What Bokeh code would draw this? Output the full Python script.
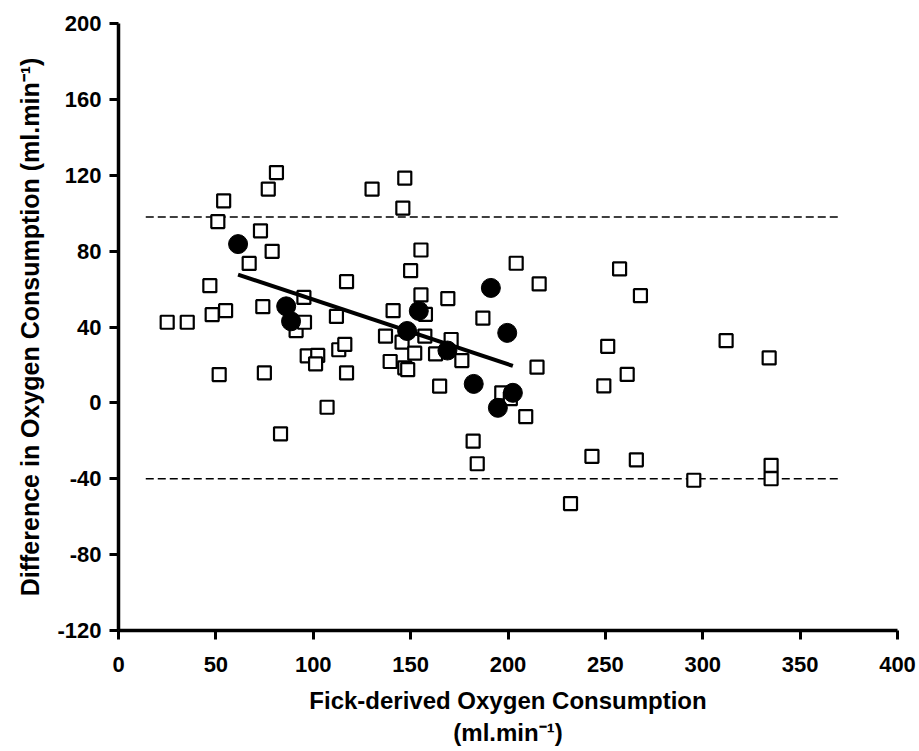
import numpy as np
from bokeh.plotting import figure
from bokeh.models import Range1d, FixedTicker, Title
from bokeh.embed import file_html
from bokeh.resources import INLINE

# --- data ---
square_x = [25.0, 35.3, 46.9, 48.1, 51.0, 51.7, 54.0, 55.0, 67.1, 72.9, 74.1, 74.9, 76.9, 78.9,
            81.1, 83.2, 91.2, 95.2, 95.5, 96.9, 102.3, 101.2, 107.1, 111.9, 113.1, 116.2, 117.1,
            117.1, 130.2, 137.1, 139.5, 141.0, 146.0, 147.0, 145.6, 147.0, 148.5, 150.0, 152.1,
            155.3, 155.3, 157.3, 157.6, 162.8, 164.9, 169.1, 170.8, 176.3, 182.1, 184.2, 187.1,
            196.8, 201.2, 204.2, 209.1, 214.9, 216.0, 232.1, 243.1, 249.2, 251.2, 257.3, 261.2,
            265.9, 268.0, 295.4, 312.0, 334.1, 335.1, 335.1]
square_y = [42.5, 42.5, 61.8, 46.5, 95.6, 14.9, 106.5, 48.6, 73.5, 90.7, 50.7, 15.8, 112.7, 79.9,
            121.4, -16.3, 38.1, 55.6, 42.5, 24.8, 25.0, 20.6, -2.3, 45.6, 28.0, 30.8, 63.9,
            15.8, 112.7, 35.2, 21.8, 48.6, 102.7, 118.5, 32.0, 18.5, 17.5, 69.7, 26.2,
            80.6, 56.9, 35.2, 46.7, 25.8, 8.8, 55.0, 33.4, 22.3, -20.2, -32.1, 44.7,
            5.3, 2.2, 73.6, -7.2, 18.8, 62.7, -53.1, -28.2, 9.0, 29.8, 70.6, 15.0,
            -30.0, 56.5, -40.8, 32.8, 23.7, -32.9, -40.0]

circle_x = [61.4, 86.1, 88.6, 148.2, 154.2, 168.9, 182.4, 191.2, 194.8, 199.6, 202.5]
circle_y = [83.7, 50.9, 43.0, 37.9, 48.5, 27.6, 10.0, 60.6, -2.6, 36.9, 5.3]

loa_upper = 98.0
loa_lower = -40.0
loa_x = [14, 370]

x_ticks = [0, 50, 100, 150, 200, 250, 300, 350, 400]
y_ticks = [-120, -80, -40, 0, 40, 80, 120, 160, 200]
y_tick_labels = ["-120", "-80", "-40", "0", "40", "80", "120", "160", "200"]

x_title = "Fick-derived Oxygen Consumption"
x_unit = "(ml.min⁻¹)"
y_title = "Difference in Oxygen Consumption (ml.min⁻¹)"

FONT = "Liberation Sans"

p = figure(width=919, height=751, output_backend="svg", toolbar_location=None,
           x_range=Range1d(0, 400), y_range=Range1d(-120, 200),
           min_border_left=118, min_border_right=22, min_border_top=23, min_border_bottom=121)
p.outline_line_color = None
p.xgrid.visible = False
p.ygrid.visible = False
p.background_fill_color = "white"

for ax, ticks in ((p.xaxis[0], x_ticks), (p.yaxis[0], y_ticks)):
    ax.ticker = FixedTicker(ticks=ticks)
    ax.axis_line_width = 3.5
    ax.axis_line_color = "black"
    ax.major_tick_line_width = 3
    ax.major_tick_line_color = "black"
    ax.major_tick_out = 9
    ax.major_tick_in = 0
    ax.minor_tick_line_color = None
    ax.major_label_text_font = FONT
    ax.major_label_text_font_style = "bold"
    ax.major_label_text_font_size = "22px"
    ax.major_label_text_color = "black"
    ax.axis_label_text_font = FONT
    ax.axis_label_text_font_style = "bold"
    ax.axis_label_text_color = "black"
p.yaxis.major_label_overrides = {t: s for t, s in zip(y_ticks, y_tick_labels)}
p.xaxis.major_label_standoff = 17
p.yaxis.major_label_standoff = 8

p.xaxis.axis_label = x_title
p.xaxis.axis_label_standoff = 12
p.xaxis.axis_label_text_font_size = "24px"

p.yaxis.axis_label = y_title
p.yaxis.axis_label_standoff = 10
p.yaxis.axis_label_text_font_size = "25px"

p.add_layout(Title(text=x_unit, align="center", text_font=FONT, text_font_style="bold",
                   text_font_size="24px", text_color="black", standoff=0), "below")

# limits of agreement
for lv in (loa_upper, loa_lower):
    p.line(loa_x, [lv, lv], line_color="black", line_width=1.5, line_dash="8 4")

p.scatter(square_x, square_y, marker="square", size=13, fill_color="white",
          line_color="black", line_width=2.2)
p.scatter(circle_x, circle_y, marker="circle", size=19, fill_color="black",
          line_color="black")

# regression through the filled points
slope, icpt = np.polyfit(circle_x, circle_y, 1)
rx = np.array([min(circle_x), max(circle_x)])
p.line(rx, slope * rx + icpt, line_color="black", line_width=4)

open("out.html", "w").write(file_html(p, INLINE))
